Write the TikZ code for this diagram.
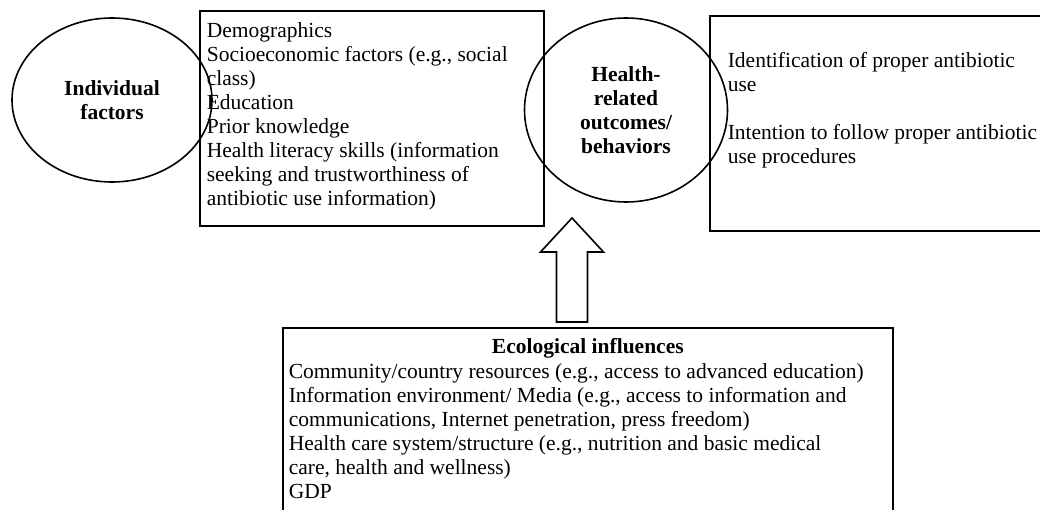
\documentclass[tikz,border=0pt]{standalone}
\usepackage{fontspec}
\setmainfont{Liberation Serif}
\usetikzlibrary{positioning, shapes.geometric}
\newcommand{\txtsize}{\fontsize{21.5}{24}\selectfont}
\tikzset{%
	factor/.style={draw, ellipse, inner sep=0mm, align=center,%
		font=\txtsize\bfseries},
	frame/.style={draw, rectangle, inner sep=0mm, anchor=north west},
	lines/.style={inner sep=0mm, align=left, anchor=north west, font=\txtsize},
	hollow/.style={draw, line join=miter}
}

\begin{document}
\begin{tikzpicture}[x=1pt, y=-1pt, line width=1.6pt]
		\useasboundingbox (0,0) rectangle (1040,510);
		\clip (0,0) rectangle (1040,510);
		\node[factor, minimum width=200pt, minimum height=164pt] (indiv) at (112,100) {Individual\\factors};
		\node[frame, minimum width=344pt, minimum height=215pt] (demo) at (199,10) {};
		\node[frame, minimum width=360pt, minimum height=215pt] (result) at (709,15) {};
		\node[frame, minimum width=610pt, minimum height=250pt] (eco) at (282,327) {};
		\node[factor, minimum width=203pt, minimum height=184pt] (outcome) at (626,110) {Health-\\related\\outcomes/\\behaviors};
		\node[lines, below right=12pt and 7pt of demo.north west] (demo-txt) {Demographics\\Socioeconomic factors (e.g., social\\class)\\Education\\Prior knowledge\\Health literacy skills (information\\seeking and trustworthiness of\\antibiotic use information)};
		\node[lines, below right=37pt and 18pt of result.north west] (result-txt) {Identification of proper antibiotic\\use\\[24pt]Intention to follow proper antibiotic\\use procedures};
		\node[lines, anchor=north, font=\txtsize\bfseries, below=11pt of eco.north] (eco-title) {Ecological influences};
		\node[lines, below right=36pt and 6pt of eco.north west] (eco-txt) {Community/country resources (e.g., access to advanced education)\\Information environment/ Media (e.g., access to information and\\communications, Internet penetration, press freedom)\\Health care system/structure (e.g., nutrition and basic medical\\care, health and wellness)\\GDP};
		% block arrow from the ecological box up to the individual level
		\coordinate (tip) at (572,218);
		\draw[hollow] (tip) -- ++(31.5,34) -- ++(-16,0) -- ++(0,70) -- ++(-31,0) -- ++(0,-70) -- ++(-16,0) -- cycle;
	\end{tikzpicture}
\end{document}
